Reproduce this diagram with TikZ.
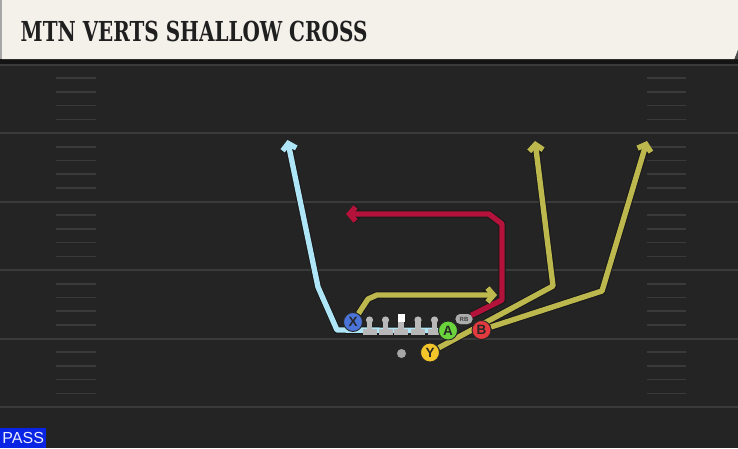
\documentclass[tikz,border=0pt]{standalone}
\usepackage{fontspec}
\usetikzlibrary{arrows.meta, positioning, shapes.misc}
\newfontfamily\titlefont{DejaVu Serif}
\newfontfamily\labelfont{Liberation Sans}
\definecolor{fieldgray}{HTML}{242424}
\definecolor{linegray}{HTML}{3A3A3A}
\definecolor{hashgray}{HTML}{3A3A3A}
\definecolor{headercream}{HTML}{F4F1EB}
\definecolor{routeblue}{HTML}{AEE6F7}
\definecolor{routeolive}{HTML}{BDB84E}
\definecolor{routered}{HTML}{B3123A}
\definecolor{xblue}{HTML}{4B74D9}
\definecolor{agreen}{HTML}{6BD43C}
\definecolor{bred}{HTML}{E23A3F}
\definecolor{yyellow}{HTML}{F2C52A}
\definecolor{passblue}{HTML}{0A24E6}
\definecolor{lmgray}{HTML}{B8B8B8}

\begin{document}
\begin{tikzpicture}[
        x=1pt, y=-1pt,
        route/.style={line width=5.4pt, line join=round, -{Straight Barb[length=6pt,width=14pt]},
            preaction={draw=black!90, line width=7.4pt}},
        player/.style={circle, draw=black!85, line width=0.9pt, minimum size=19pt, inner sep=0pt,
            font=\labelfont\bfseries\fontsize{13.5}{13.5}\selectfont, text=black!85},
        rb/.style={rounded rectangle, fill=gray!65, minimum width=17pt, minimum height=10pt, inner sep=0pt,
            font=\labelfont\bfseries\fontsize{6}{6}\selectfont, text=black!75},
        lineman/.pic={
            \fill[lmgray] (-7,8.5) rectangle (7,14.5);
            \fill[lmgray] (-2.6,1) rectangle (2.6,9);
            \fill[lmgray] (0,0) circle (3.6);
        },
        center/.pic={
            \fill[lmgray] (-7,8.5) rectangle (7,14.5);
            \fill[lmgray] (-2.6,1) rectangle (2.6,9);
            \fill[white] (-3.5,-6.5) rectangle (3.5,1.7);
        }
    ]
        \useasboundingbox (0,0) rectangle (738,448);

        % Field
        \fill[fieldgray] (0,0) rectangle (738,448);
        \foreach \yl in {64.5,133,201.5,270,338.5,407}
            \draw[linegray, line width=2pt] (0,\yl) -- (738,\yl);
        \foreach \yl in {64.5,133,201.5,270,338.5} {
            \foreach \k in {1,2,3,4} {
                \draw[hashgray, line width=1.6pt] (56,\yl+13.7*\k) -- (96,\yl+13.7*\k);
                \draw[hashgray, line width=1.6pt] (647,\yl+13.7*\k) -- (686,\yl+13.7*\k);
            }
        }

        % Players
        \node[player, fill=xblue] (X) at (353,322) {X};
        \node[player, fill=agreen] (A) at (448,330.5) {A};
        \node[player, fill=bred] (B) at (481.5,330) {B};
        \node[player, fill=yyellow] (Y) at (430,352.5) {Y};
        \node[rb] (RB) at (464,319) {RB};

        % Route corners
        \coordinate (x1) at (368,299);
        \coordinate (x2) at (377,295);
        \coordinate (x3) at (497,295);
        \coordinate (a1) at (337,330);
        \coordinate (a2) at (318,287);
        \coordinate (a3) at (287.5,140);
        \coordinate (r1) at (502,300);
        \coordinate (r2) at (502,224);
        \coordinate (r3) at (489,214);
        \coordinate (r4) at (346,214);
        \coordinate (y1) at (553,286);
        \coordinate (y2) at (535,141);
        \coordinate (b1) at (602,291);
        \coordinate (b2) at (647,141);

        % Routes
        \draw[route, routered] (RB) -- (r1) -- (r2) -- (r3) -- (r4);
        \draw[route, routeolive] (Y) -- (y1) -- (y2);
        \draw[route, routeolive] (B) -- (b1) -- (b2);
        \draw[route, routeblue] (A) -- (a1) -- (a2) -- (a3);
        \draw[route, routeolive] (X) -- (x1) -- (x2) -- (x3);

        % Line
        \pic (lt) at (369.5,320) {lineman};
        \pic (lg) at (385.5,320) {lineman};
        \pic (c) at (401,320) {center};
        \pic (rg) at (418,320) {lineman};
        \pic (rt) at (434.5,320) {lineman};

        % Players on top
        \node[player, fill=xblue] at (X) {X};
        \node[player, fill=agreen] at (A) {A};
        \node[player, fill=bred] at (B) {B};
        \node[player, fill=yyellow] at (Y) {Y};
        \node[rb] at (RB) {RB};
        \node[circle, fill=gray!70, minimum size=9pt, inner sep=0pt] (qb) at (401.5,353.5) {};

        % Header
        \fill[black!92] (0,59) rectangle (738,63.5);
        \fill[headercream] (2,0) -- (738,0) -- (738,50) -- (734.5,59) -- (2,59) -- cycle;
        \fill[gray!70] (0,0) rectangle (2,59);
        \fill[gray!60!black] (734.5,59) -- (738,50) -- (738,59) -- cycle;
        \node[anchor=base west, inner sep=0pt, text=black!88,
            font=\titlefont\bfseries\fontsize{27.5}{27.5}\selectfont] (title) at (20.5,41.7)
            {\scalebox{0.725}[1]{MTN VERTS SHALLOW CROSS}};

        % Play type
        \node[fill=passblue, anchor=south west, minimum width=46pt, minimum height=20pt, inner sep=0pt,
            text=blue!8, font=\labelfont\fontsize{16}{16}\selectfont] (pass) at (0,448) {PASS};
    \end{tikzpicture}
\end{document}
